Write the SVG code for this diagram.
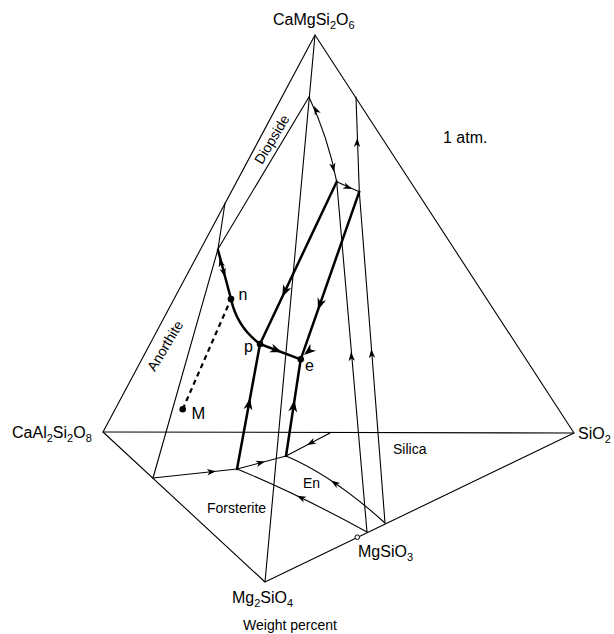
<svg xmlns="http://www.w3.org/2000/svg" xmlns:xlink="http://www.w3.org/1999/xlink" width="614" height="634" viewBox="0 0 614 634">
<style>
text{font-family:"Liberation Sans",Arial,sans-serif;fill:#000}
.lg{font-size:16px}
.sm{font-size:14px}
.sub{font-size:11px}
.thin{fill:none;stroke:#000;stroke-width:1.1;stroke-linejoin:round;stroke-linecap:round}
.thick{fill:none;stroke:#000;stroke-width:2.5;stroke-linejoin:round;stroke-linecap:round}
.dash{fill:none;stroke:#000;stroke-width:2.2;stroke-dasharray:5 4}
.dot{fill:#000}
</style>
<defs>
<path id="a" d="M0,0 L-9,-3.2 L-6.5,0 L-9,3.2 Z"/>
<path id="A" d="M0,0 L-12,-4.5 L-8.5,0 L-12,4.5 Z"/>
</defs>
<rect width="614" height="634" fill="#fff"/>

<g id="connectors">
  <!-- tetrahedron edges -->
  <path class="thin" d="M315,35 L103,432 L265,582 L574,433 Z"/>
  <path class="thin" d="M103,432 L574,433"/>
  <path class="thin" d="M315,35 L265,582"/>
  <!-- An-Di-Fo face -->
  <path class="thin" d="M225,203 L218,249"/>
  <path class="thin" d="M309,97 L218,249 L153,478"/>
  <!-- Di-Fo-SiO2 face -->
  <path class="thin" d="M309,97 Q328,137 336.7,181.7"/>
  <path class="thin" d="M336.7,181.7 L359.3,191.7"/>
  <path class="thin" d="M356,97 L359.3,191.7 L385,523"/>
  <path class="thin" d="M336.7,181.7 L367,532"/>
  <!-- base face -->
  <path class="thin" d="M153,478 L237,469 L286,456 L330,433"/>
  <path class="thin" d="M237,469 Q298,494 367,532"/>
  <path class="thin" d="M286,456 Q332.5,475.5 385,523"/>
  <!-- quaternary boundaries -->
  <path class="thick" d="M218,250 L231,299 Q237,327 260,344"/>
  <path class="thick" d="M336.7,181.7 L260,344 L237,469"/>
  <path class="thick" d="M260,344 L300.7,359.3"/>
  <path class="thick" d="M359.3,191.7 L300.7,359.3 L286,456"/>
  <path class="dash" d="M182.7,409.3 L231,299"/>
  <!-- arrowheads -->
  <use href="#a" transform="translate(314,106) rotate(-115)"/>
  <use href="#a" transform="translate(334,172) rotate(79)"/>
  <use href="#a" transform="translate(352,189) rotate(23)"/>
  <use href="#a" transform="translate(357.3,138) rotate(-88)"/>
  <use href="#a" transform="translate(351,352) rotate(-95)"/>
  <use href="#a" transform="translate(371.3,349) rotate(-94.5)"/>
  <use href="#a" transform="translate(216,471.3) rotate(-6)"/>
  <use href="#a" transform="translate(265,461.6) rotate(-15)"/>
  <use href="#a" transform="translate(307,445) rotate(152)"/>
  <use href="#a" transform="translate(297,495.8) rotate(-154)"/>
  <use href="#a" transform="translate(331,480.5) rotate(-146)"/>
  <use href="#A" transform="translate(282.2,297) rotate(115)"/>
  <use href="#A" transform="translate(250.1,398) rotate(-79.6)"/>
  <use href="#A" transform="translate(282,352.3) rotate(20.6)"/>
  <use href="#A" transform="translate(317.9,310) rotate(109.3)"/>
  <use href="#A" transform="translate(294.5,400) rotate(-81.4)"/>
  <use href="#A" transform="translate(304,355) rotate(140)"/>
  <use href="#a" transform="translate(219.5,258) rotate(-105)"/>
  <use href="#a" transform="translate(225,277) rotate(75)"/>
</g>

<g id="node-n"><circle class="dot" cx="231" cy="299" r="3.3"/><text class="lg" x="238.5" y="299.5">n</text></g>
<g id="node-p"><circle class="dot" cx="260" cy="344" r="3.3"/><text class="lg" x="244" y="352">p</text></g>
<g id="node-e"><circle class="dot" cx="300.7" cy="359.3" r="3.3"/><text class="lg" x="305" y="370.5">e</text></g>
<g id="node-M"><circle class="dot" cx="182.7" cy="409.3" r="3.3"/><text class="lg" x="191.5" y="419.3" style="font-size:16.5px">M</text></g>
<g id="node-MgSiO3"><circle cx="357.3" cy="537.2" r="2.3" fill="#fff" stroke="#000" stroke-width="1"/>
  <text class="lg" x="358" y="556.5">MgSiO<tspan class="sub" dy="4">3</tspan></text></g>

<g id="node-CaMgSi2O6"><text class="lg" x="273" y="25">CaMgSi<tspan class="sub" dy="4">2</tspan><tspan dy="-4">O</tspan><tspan class="sub" dy="4">6</tspan></text></g>
<g id="node-CaAl2Si2O8"><text class="lg" x="12" y="438">CaAl<tspan class="sub" dy="4">2</tspan><tspan dy="-4">Si</tspan><tspan class="sub" dy="4">2</tspan><tspan dy="-4">O</tspan><tspan class="sub" dy="4">8</tspan></text></g>
<g id="node-SiO2"><text class="lg" x="578" y="439">SiO<tspan class="sub" dy="4">2</tspan></text></g>
<g id="node-Mg2SiO4"><text class="lg" x="232" y="602.5">Mg<tspan class="sub" dy="4">2</tspan><tspan dy="-4">SiO</tspan><tspan class="sub" dy="4">4</tspan></text></g>

<g id="labels">
  <text class="lg" x="443" y="143">1 atm.</text>
  <text class="sm" x="393" y="454">Silica</text>
  <text class="sm" x="303" y="488">En</text>
  <text class="sm" x="207" y="513">Forsterite</text>
  <text class="sm" x="290" y="630" text-anchor="middle">Weight percent</text>
  <text class="sm" text-anchor="middle" transform="translate(271.7,139.3) rotate(-59)" y="5">Diopside</text>
  <text class="sm" text-anchor="middle" transform="translate(165,345.7) rotate(-59)" y="5">Anorthite</text>
</g>
</svg>
